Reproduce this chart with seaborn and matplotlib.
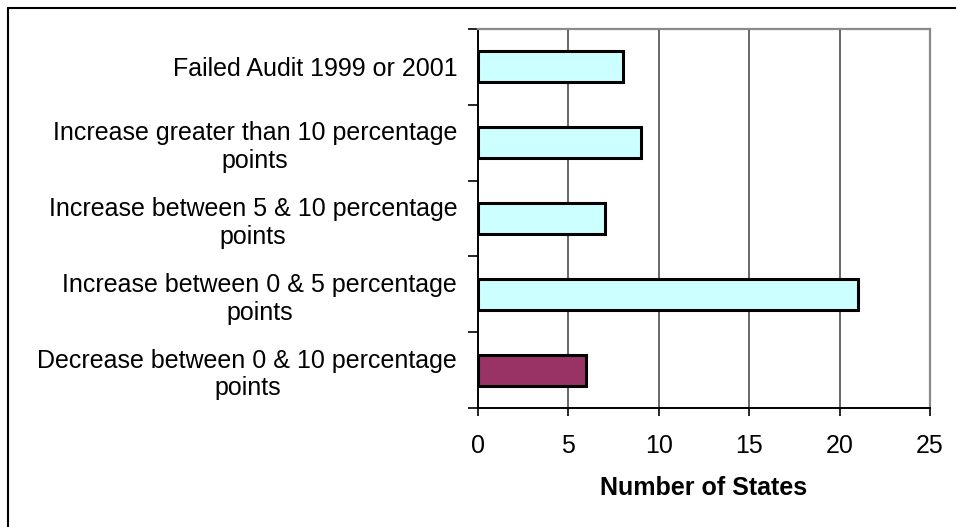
import matplotlib
matplotlib.use("Agg")
import matplotlib.pyplot as plt
from matplotlib.lines import Line2D
import seaborn as sns
import pandas as pd

categories = [
    "Failed Audit 1999 or 2001",
    "Increase greater than 10 percentage\npoints",
    "Increase between 5 & 10 percentage\npoints",
    "Increase between 0 & 5 percentage\npoints",
    "Decrease between 0 & 10 percentage\npoints",
]
states = [8, 9, 7, 21, 6]
bar_colors = ["#CCFFFF", "#CCFFFF", "#CCFFFF", "#CCFFFF", "#993366"]
x_ticks = [0, 5, 10, 15, 20, 25]

df = pd.DataFrame({"category": categories, "states": states})

sns.set_theme(style="white")
plt.rcParams["font.family"] = ["Liberation Sans", "DejaVu Sans"]
plt.rcParams["text.color"] = "black"
plt.rcParams["axes.labelcolor"] = "black"
plt.rcParams["xtick.color"] = "black"
plt.rcParams["ytick.color"] = "black"

FS = 18

fig = plt.figure(figsize=(9.56, 5.27), dpi=100)
ax = fig.add_axes([0.5, 0.2258, 0.4728, 0.7192])

sns.barplot(
    data=df, x="states", y="category", hue="category",
    palette=dict(zip(categories, bar_colors)), legend=False,
    orient="h", width=0.41, edgecolor="black", linewidth=2.2,
    saturation=1, ax=ax, zorder=3,
)

ax.set_xlim(0, 25)
ax.set_ylim(len(categories) - 0.5, -0.5)
ax.set_xticks(x_ticks)
ax.set_xticklabels([str(t) for t in x_ticks], fontsize=FS)
ax.tick_params(axis="x", direction="out", length=6, width=1.2,
               pad=13, bottom=True)

# category boundaries carry the ticks, labels sit at the centres
ax.set_yticks([i - 0.5 for i in range(len(categories) + 1)])
ax.set_yticklabels([])
ax.set_yticks(range(len(categories)), minor=True)
ax.set_yticklabels(categories, minor=True, fontsize=FS,
                   multialignment="center", linespacing=1.2)
ax.tick_params(axis="y", which="major", direction="out", length=7, width=1.2,
               left=True)
ax.tick_params(axis="y", which="minor", length=0, pad=15)

for v in x_ticks[1:-1]:
    ax.axvline(v, color="#5a5a5a", linewidth=1.3, zorder=1)

ax.set_xlabel("Number of States", fontsize=FS, fontweight="bold", labelpad=13)
ax.set_ylabel("")

for side in ("left", "bottom"):
    ax.spines[side].set_color("black")
    ax.spines[side].set_linewidth(1.4)
for side in ("top", "right"):
    ax.spines[side].set_color("#8a8a8a")
    ax.spines[side].set_linewidth(1.6)
    ax.spines[side].set_visible(True)

# outer frame of the chart area
fig.add_artist(Line2D([8 / 956, 1.0], [1 - 8 / 527, 1 - 8 / 527],
                      transform=fig.transFigure, color="black", linewidth=1.5))
fig.add_artist(Line2D([8 / 956, 8 / 956], [0.0, 1 - 8 / 527],
                      transform=fig.transFigure, color="black", linewidth=1.5))

fig.savefig("out.png", dpi=100)
